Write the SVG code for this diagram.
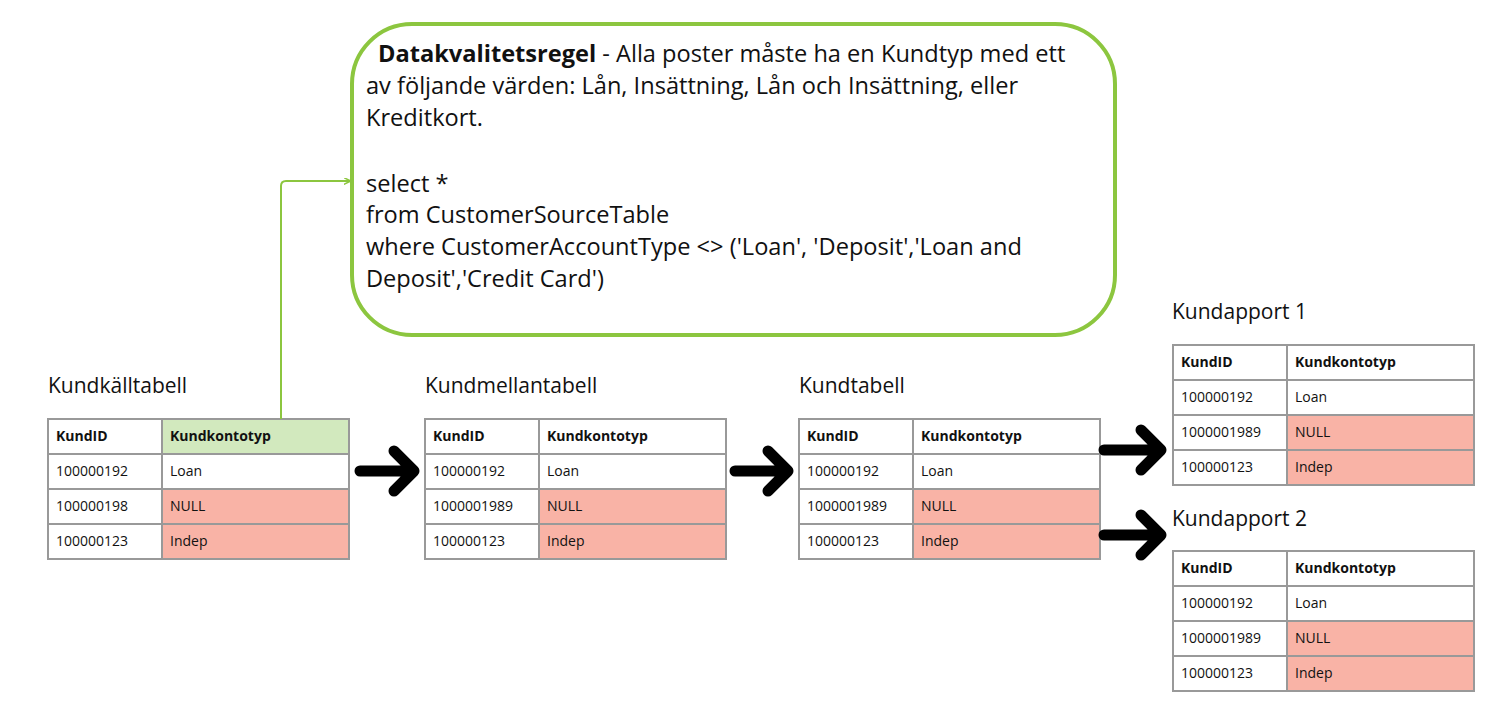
<svg xmlns="http://www.w3.org/2000/svg" width="1498" height="704" viewBox="0 0 1498 704">
<style>
text{font-family:"Open Sans","Noto Sans",sans-serif;fill:#111}
.t{font-size:14px}.h{font-size:14px;font-weight:bold}.ti{font-size:21px}.b{font-size:23.6px}
.c{fill:#fff;stroke:#999;stroke-width:2}.r{fill:#f9b3a6;stroke:#999;stroke-width:2}.g{fill:#d2e9be;stroke:#999;stroke-width:2}
.a{fill:none;stroke:#000;stroke-width:11;stroke-linecap:round;stroke-linejoin:round}
</style>
<defs>
<marker id="m" viewBox="0 0 10 10" refX="9" refY="5" markerWidth="7" markerHeight="7" orient="auto" markerUnits="userSpaceOnUse"><path d="M0,0 L10,5 L0,10" fill="none" stroke="#8cc63f" stroke-width="2"/></marker>
<g id="tbl">
<rect class="c" x="0" y="0" width="114" height="35"/><rect class="c" x="114" y="0" width="187" height="35"/>
<rect class="c" x="0" y="35" width="114" height="35"/><rect class="c" x="114" y="35" width="187" height="35"/>
<rect class="c" x="0" y="70" width="114" height="35"/><rect class="r" x="114" y="70" width="187" height="35"/>
<rect class="c" x="0" y="105" width="114" height="35"/><rect class="r" x="114" y="105" width="187" height="35"/>
<text class="h" x="8" y="22">KundID</text><text class="h" x="122" y="22">Kundkontotyp</text>
<text class="t" x="8" y="57">100000192</text><text class="t" x="122" y="57">Loan</text>
<text class="t" x="8" y="92">1000001989</text><text class="t" x="122" y="92">NULL</text>
<text class="t" x="8" y="127">100000123</text><text class="t" x="122" y="127">Indep</text>
</g>
</defs>
<rect width="1498" height="704" fill="#fff"/>
<g id="rule">
<rect x="352" y="24" width="763" height="311" rx="60" fill="#fff" stroke="#8cc63f" stroke-width="4"/>
<text class="b" x="378" y="62"><tspan font-weight="bold">Datakvalitetsregel</tspan> - Alla poster måste ha en Kundtyp med ett</text>
<text class="b" x="366" y="94">av följande värden: Lån, Insättning, Lån och Insättning, eller</text>
<text class="b" x="366" y="126">Kreditkort.</text>
<text class="b" x="366" y="192">select *</text>
<text class="b" x="366" y="223">from CustomerSourceTable</text>
<text class="b" x="366" y="255">where CustomerAccountType &lt;&gt; ('Loan', 'Deposit','Loan and</text>
<text class="b" x="366" y="287">Deposit','Credit Card')</text>
</g>
<g id="source">
<text class="ti" x="48" y="393">Kundkälltabell</text>
<rect class="c" x="48" y="419" width="114" height="35"/><rect class="g" x="162" y="419" width="187" height="35"/>
<rect class="c" x="48" y="454" width="114" height="35"/><rect class="c" x="162" y="454" width="187" height="35"/>
<rect class="c" x="48" y="489" width="114" height="35"/><rect class="r" x="162" y="489" width="187" height="35"/>
<rect class="c" x="48" y="524" width="114" height="35"/><rect class="r" x="162" y="524" width="187" height="35"/>
<text class="h" x="56" y="441">KundID</text><text class="h" x="170" y="441">Kundkontotyp</text>
<text class="t" x="56" y="476">100000192</text><text class="t" x="170" y="476">Loan</text>
<text class="t" x="56" y="511">100000198</text><text class="t" x="170" y="511">NULL</text>
<text class="t" x="56" y="546">100000123</text><text class="t" x="170" y="546">Indep</text>
</g>
<g id="mellan"><text class="ti" x="425" y="393">Kundmellantabell</text><use href="#tbl" x="425" y="419"/></g>
<g id="kund"><text class="ti" x="799" y="393">Kundtabell</text><use href="#tbl" x="799" y="419"/></g>
<g id="rapport1"><text class="ti" x="1172" y="319">Kundapport 1</text><use href="#tbl" x="1173" y="345"/></g>
<g id="rapport2"><text class="ti" x="1172" y="526">Kundapport 2</text><use href="#tbl" x="1173" y="551"/></g>
<g id="connectors">
<path d="M281,419 V186 Q281,181 286,181 H350" fill="none" stroke="#8cc63f" stroke-width="2" marker-end="url(#m)"/>
<path class="a" d="M360,471 H412 M394,451 L414,471 L394,491"/>
<path class="a" d="M735,471 H786 M768,451 L788,471 L768,491"/>
<path class="a" d="M1104,450 H1159 M1141,430 L1161,450 L1141,470"/>
<path class="a" d="M1104,535 H1159 M1141,515 L1161,535 L1141,555"/>
</g>
</svg>
